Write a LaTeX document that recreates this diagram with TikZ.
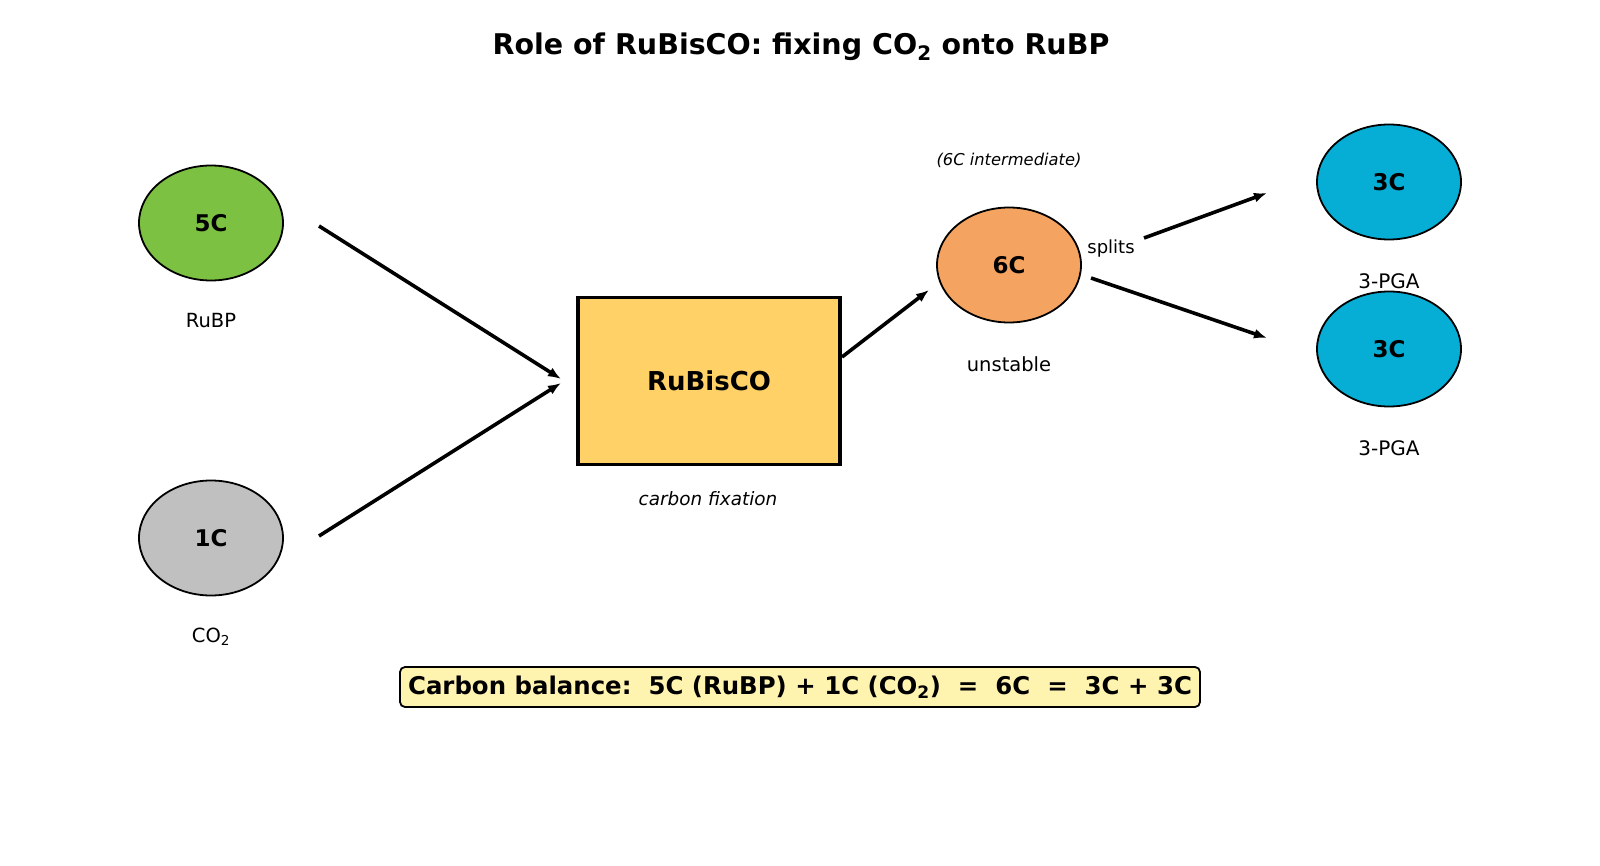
\documentclass[tikz,border=0pt]{standalone}
\usepackage{fontspec}
\setmainfont{DejaVu Sans}
\usepackage{xcolor}
\usetikzlibrary{arrows.meta,shapes.geometric,positioning}

\definecolor{rubpgreen}{HTML}{7CC142}
\definecolor{cotwogray}{HTML}{C0C0C0}
\definecolor{enzyellow}{HTML}{FFD166}
\definecolor{sixorange}{HTML}{F4A460}
\definecolor{pgacyan}{HTML}{06AED5}
\definecolor{balfill}{HTML}{FFF3B0}

\newcommand{\fsz}[1]{\fontsize{#1}{#1}\selectfont}

\begin{document}
\begin{tikzpicture}[x=1pt,y=-1pt,>={Latex[length=13pt,width=10pt]},
  mol/.style={ellipse,draw,line width=1.8pt,minimum width=144pt,minimum height=115pt,
    inner sep=0pt,font=\fsz{23}\bfseries},
  lab/.style={font=\fsz{19.5},inner sep=0pt},
  flow/.style={->,line width=3.6pt}]
  \useasboundingbox (0,0) rectangle (1600,866);
  \node[font=\fsz{28.5}\bfseries] (title) at (801,47) {Role of RuBisCO: fixing CO\textsubscript{2} onto RuBP};

  % substrates
  \node[mol,fill=rubpgreen] (rubp) at (211,223) {5C};
  \node[lab] (rubplab) at (211,321) {RuBP};
  \node[mol,fill=cotwogray] (cotwo) at (211,538) {1C};
  \node[lab] (cotwolab) at (211,637) {CO\textsubscript{2}};

  % enzyme
  \node[draw,line width=3.6pt,fill=enzyellow,minimum width=262pt,minimum height=167pt,
    font=\fsz{26}\bfseries] (rubisco) at (709,381) {RuBisCO};
  \node[lab,font=\fsz{18.4}\itshape] (fixlab) at (708,499) {carbon fixation};

  % intermediate
  \node[mol,fill=sixorange] (six) at (1009,265) {6C};
  \node[lab,font=\fsz{16.3}\itshape] (sixnote) at (1009,160) {(6C intermediate)};
  \node[lab] (sixlab) at (1009,364) {unstable};
  \node[lab,font=\fsz{18}] (splits) at (1111,249) {splits};

  % products
  \foreach \n/\y in {pgaa/182,pgab/349}{
    \node[mol,fill=pgacyan] (\n) at (1389,\y) {3C};
    \node[lab,font=\fsz{20}] (\n lab) at (1389,\y+99) {3-PGA};
  }

  % arrow ends
  \coordinate (a1) at (319,226);  \coordinate (b1) at (561,379);
  \coordinate (a2) at (319,536);  \coordinate (b2) at (561,383);
  \coordinate (a3) at (842,357);  \coordinate (b3) at (929,290);
  \coordinate (a4) at (1144,238); \coordinate (b4) at (1267,193);
  \coordinate (a5) at (1091,278); \coordinate (b5) at (1267,338);
  \foreach \i in {1,...,5}
    \draw[flow] (a\i) -- (b\i);

  \node[draw,line width=1.8pt,rounded corners=5pt,fill=balfill,minimum width=800pt,
    minimum height=40pt,inner sep=0pt,font=\fsz{24.4}\bfseries] (balance) at (800,687)
    {Carbon balance:\ \ 5C (RuBP) + 1C (CO\textsubscript{2})\ \ =\ \ 6C\ \ =\ \ 3C + 3C};
\end{tikzpicture}
\end{document}
